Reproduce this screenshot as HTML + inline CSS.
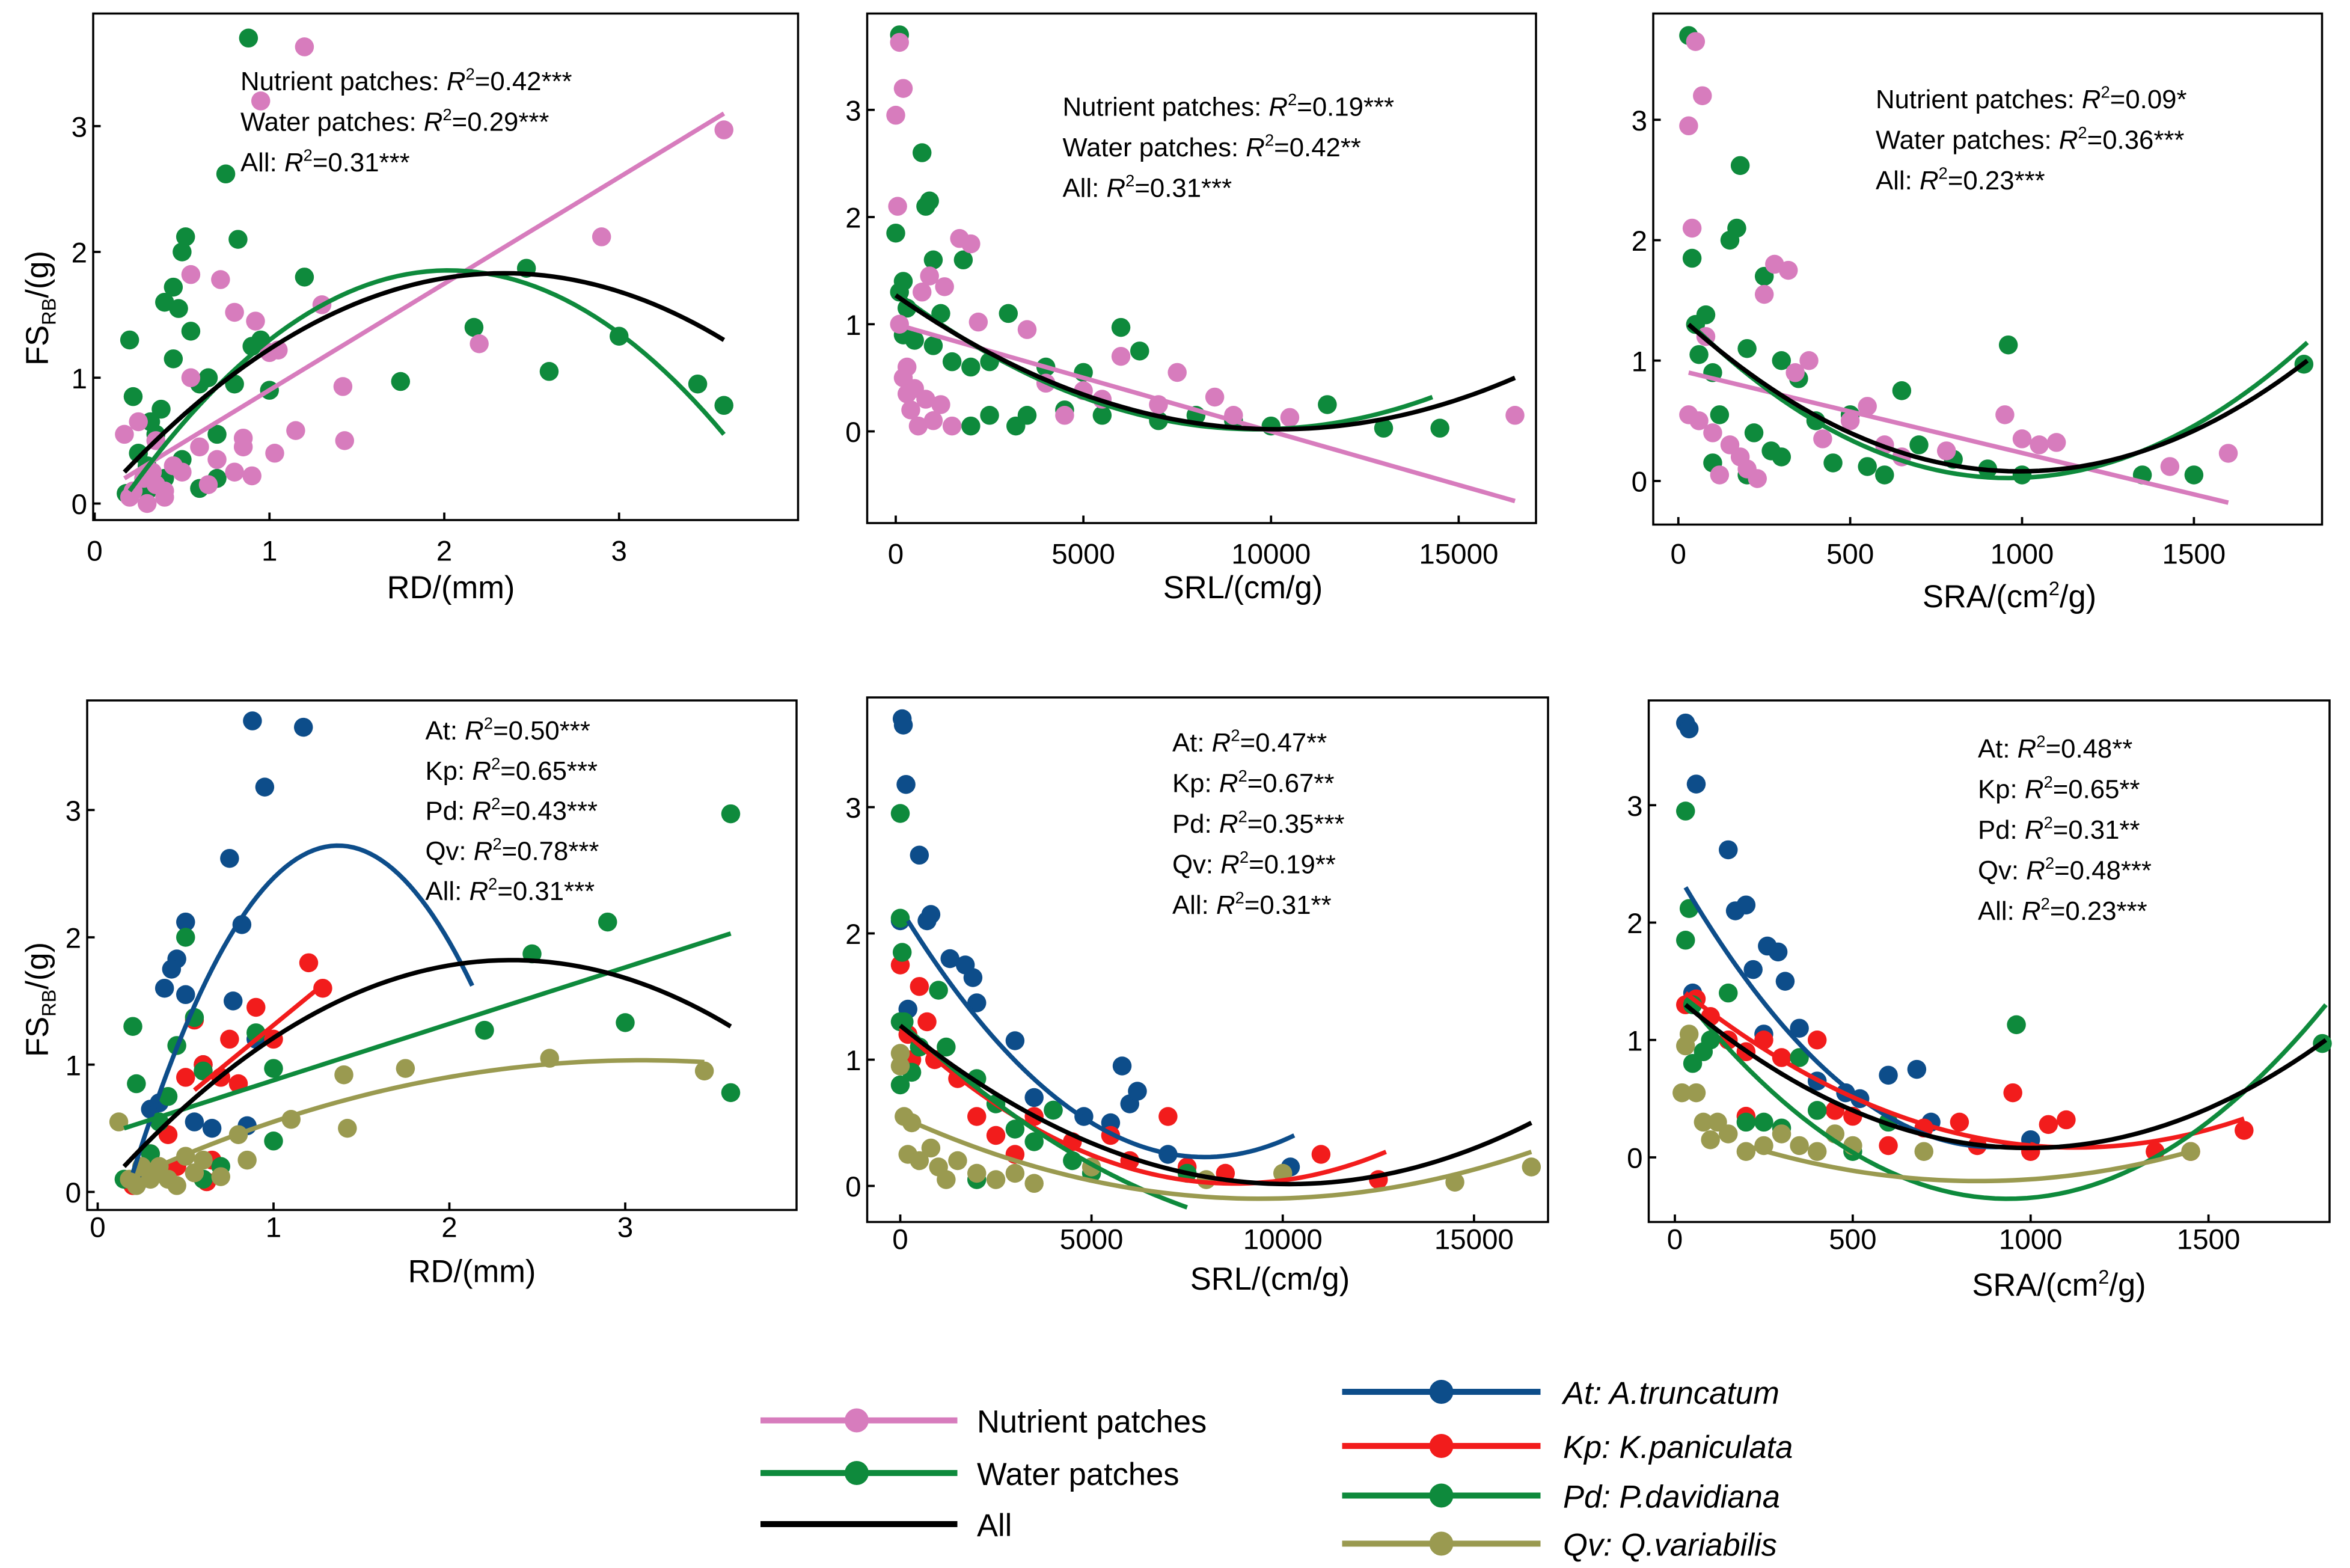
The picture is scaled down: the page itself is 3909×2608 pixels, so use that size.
<!DOCTYPE html>
<html><head><meta charset="utf-8"><style>
html,body{margin:0;padding:0;background:#fff}
svg{display:block}
text{font-family:"Liberation Sans",Arial,sans-serif;fill:#000}
</style></head><body>
<svg id="chart" width="3909" height="2608" viewBox="0 0 1563.6 1043.2" xmlns="http://www.w3.org/2000/svg"></svg>
<script>
const COL={pink:'#d77cbd',green:'#0e8a3c',black:'#000',blue:'#0d4d8a',red:'#f21c1c',olive:'#9a9a50'};
// ---- data arrays ----
const p1Water=[[0.18,0.08],[0.2,1.3],[0.22,0.85],[0.25,0.4],[0.3,0.3],[0.32,0.65],[0.35,0.55],[0.38,0.75],[0.4,1.6],[0.45,1.72],[0.45,1.15],[0.48,1.55],[0.5,2.0],[0.52,2.12],[0.55,1.37],[0.6,0.95],[0.6,0.12],[0.65,1.0],[0.7,0.2],[0.7,0.55],[0.75,2.62],[0.8,0.95],[0.82,2.1],[0.88,3.7],[0.9,1.25],[0.95,1.3],[1.0,0.9],[1.2,1.8],[1.75,0.97],[2.17,1.4],[2.47,1.87],[2.6,1.05],[3.0,1.33],[3.45,0.95],[3.6,0.78],[0.3,0.1],[0.4,0.2],[0.5,0.35]];
const p1Nutr=[[0.17,0.55],[0.2,0.05],[0.22,0.1],[0.25,0.65],[0.28,0.2],[0.3,0.0],[0.33,0.25],[0.35,0.5],[0.4,0.1],[0.45,0.3],[0.5,0.25],[0.55,1.0],[0.55,1.82],[0.6,0.45],[0.65,0.15],[0.7,0.35],[0.72,1.78],[0.8,1.52],[0.85,0.45],[0.85,0.52],[0.92,1.45],[0.95,3.2],[1.0,1.2],[1.05,1.22],[1.03,0.4],[1.15,0.58],[1.2,3.63],[1.3,1.58],[1.42,0.93],[1.43,0.5],[2.2,1.27],[2.9,2.12],[3.6,2.97],[0.8,0.25],[0.9,0.22],[0.4,0.05],[0.35,0.15]];
const p2Water=[[200,0.9],[0,1.85],[100,1.3],[200,1.4],[300,1.15],[500,0.85],[700,2.6],[800,2.1],[900,2.15],[1000,1.6],[1200,1.1],[1500,0.65],[1800,1.6],[2000,0.6],[2500,0.65],[3000,1.1],[3200,0.05],[3500,0.15],[4000,0.6],[4500,0.2],[5000,0.55],[5500,0.15],[6000,0.97],[6500,0.75],[7000,0.1],[8000,0.15],[9000,0.1],[10000,0.05],[11500,0.25],[13000,0.03],[14500,0.03],[100,3.7],[1000,0.8],[2000,0.05],[2500,0.15]];
const p2Nutr=[[0,2.95],[100,3.63],[200,3.2],[50,2.1],[100,1.0],[200,0.5],[300,0.6],[400,0.2],[500,0.4],[700,1.3],[800,0.3],[900,1.45],[1000,0.1],[1300,1.35],[1500,0.05],[1700,1.8],[2000,1.75],[2200,1.02],[3500,0.95],[4000,0.45],[4500,0.15],[5000,0.38],[5500,0.3],[6000,0.7],[7000,0.25],[7500,0.55],[8500,0.32],[9000,0.15],[10500,0.13],[16500,0.15],[1200,0.25],[600,0.05],[300,0.35]];
const p3Water=[[30,3.7],[40,1.85],[50,1.3],[60,1.05],[80,1.38],[100,0.9],[120,0.55],[150,2.0],[170,2.1],[180,2.62],[200,1.1],[220,0.4],[250,1.7],[270,0.25],[300,1.0],[350,0.85],[400,0.5],[450,0.15],[500,0.55],[550,0.12],[600,0.05],[650,0.75],[700,0.3],[800,0.18],[900,0.1],[960,1.13],[1000,0.05],[1350,0.05],[1500,0.05],[1820,0.97],[100,0.15],[200,0.05],[300,0.2]];
const p3Nutr=[[30,2.95],[50,3.65],[70,3.2],[40,2.1],[30,0.55],[60,0.5],[80,1.2],[100,0.4],[150,0.3],[200,0.1],[250,1.55],[280,1.8],[320,1.75],[340,0.9],[380,1.0],[420,0.35],[500,0.5],[550,0.62],[600,0.3],[650,0.2],[780,0.25],[950,0.55],[1000,0.35],[1050,0.3],[1100,0.32],[1430,0.12],[1600,0.23],[120,0.05],[180,0.2],[230,0.02]];
const p4At=[[0.25,0.1],[0.3,0.65],[0.35,0.7],[0.38,1.6],[0.45,1.83],[0.5,1.55],[0.5,2.12],[0.42,1.75],[0.6,1.0],[0.75,2.62],[0.77,1.5],[0.82,2.1],[0.88,3.7],[0.95,3.18],[1.17,3.65],[0.85,0.52],[0.9,1.2],[0.3,0.15],[0.55,0.55],[0.65,0.5]];
const p4Kp=[[0.2,0.05],[0.3,0.3],[0.4,0.45],[0.5,0.9],[0.55,1.35],[0.6,1.0],[0.62,0.08],[0.65,0.25],[0.7,0.9],[0.75,1.2],[0.8,0.85],[0.9,1.45],[1.0,1.2],[1.2,1.8],[1.28,1.6],[0.45,0.2]];
const p4Pd=[[0.15,0.1],[0.2,1.3],[0.22,0.85],[0.3,0.3],[0.35,0.55],[0.4,0.75],[0.5,2.0],[0.45,1.15],[0.55,1.37],[0.6,0.95],[0.7,0.2],[0.9,1.25],[1.0,0.97],[1.0,0.4],[2.2,1.27],[2.47,1.87],[2.9,2.12],[3.0,1.33],[3.6,2.97],[3.6,0.78],[0.6,0.1]];
const p4Qv=[[0.12,0.55],[0.18,0.1],[0.22,0.05],[0.3,0.1],[0.35,0.2],[0.4,0.1],[0.45,0.05],[0.5,0.28],[0.55,0.15],[0.6,0.25],[0.7,0.12],[0.8,0.45],[0.85,0.25],[1.1,0.57],[1.4,0.92],[1.42,0.5],[1.75,0.97],[2.57,1.05],[3.45,0.95],[0.25,0.2]];
const p5At=[[50,3.7],[80,3.65],[150,3.18],[0,2.1],[500,2.62],[700,2.1],[800,2.15],[200,1.4],[1300,1.8],[1700,1.75],[1900,1.65],[2000,1.45],[3000,1.15],[3500,0.7],[4000,0.6],[4800,0.55],[5500,0.5],[6000,0.65],[5800,0.95],[6200,0.75],[7000,0.25],[10200,0.15]];
const p5Kp=[[0,1.75],[200,1.2],[300,1.0],[500,1.58],[700,1.3],[900,1.0],[1500,0.85],[2000,0.55],[2500,0.4],[3000,0.25],[3500,0.55],[4500,0.35],[5500,0.4],[6000,0.2],[7000,0.55],[7500,0.15],[8500,0.1],[11000,0.25],[12500,0.05]];
const p5Pd=[[0,2.12],[50,1.85],[0,1.3],[0,0.8],[100,1.3],[300,0.9],[500,1.1],[1000,1.55],[1200,1.1],[2000,0.85],[2500,0.65],[3000,0.45],[3500,0.35],[4000,0.6],[4500,0.2],[5000,0.1],[7500,0.1],[2000,0.05],[0,2.95]];
const p5Qv=[[0,1.05],[0,0.95],[100,0.55],[300,0.5],[200,0.25],[500,0.2],[800,0.3],[1000,0.15],[1200,0.05],[1500,0.2],[2000,0.1],[2500,0.05],[3000,0.1],[3500,0.02],[5000,0.15],[10000,0.1],[14500,0.03],[16500,0.15],[8000,0.05]];
const p6At=[[30,3.7],[40,3.65],[60,3.18],[150,2.62],[170,2.1],[200,2.15],[220,1.6],[260,1.8],[290,1.75],[310,1.5],[250,1.05],[400,0.65],[480,0.55],[520,0.5],[600,0.7],[680,0.75],[720,0.3],[1000,0.15],[50,1.4],[350,1.1]];
const p6Kp=[[30,1.3],[60,1.35],[100,1.2],[150,1.0],[200,0.9],[250,1.0],[300,0.85],[400,1.0],[450,0.4],[500,0.35],[600,0.1],[700,0.25],[800,0.3],[850,0.1],[950,0.55],[1000,0.05],[1050,0.28],[1100,0.32],[1350,0.05],[1450,0.05],[1600,0.23],[200,0.35]];
const p6Pd=[[30,2.95],[40,2.12],[30,1.85],[50,1.3],[80,0.9],[100,1.0],[150,1.4],[200,0.3],[250,0.3],[300,0.25],[350,0.85],[400,0.4],[600,0.3],[960,1.13],[1820,0.97],[500,0.05],[50,0.8]];
const p6Qv=[[20,0.55],[40,1.05],[30,0.95],[60,0.55],[80,0.3],[100,0.15],[150,0.2],[200,0.05],[250,0.1],[300,0.2],[350,0.1],[400,0.05],[450,0.2],[500,0.1],[700,0.05],[1450,0.05],[120,0.3]];
// fitted curves (read control points: start, middle, end)
const p1Curves=[['pink',[[0.17,0.2],[3.6,3.1]]],['green',[[0.2,0.1],[1.95,1.85],[3.6,0.55]]],['black',[[0.17,0.25],[2.3,1.83],[3.6,1.3]]]];
const p2Curves=[['pink',[[0,1.0],[16500,-0.65]]],['green',[[0,1.3],[9500,0.02],[14300,0.32]]],['black',[[0,1.27],[10000,0.02],[16500,0.5]]]];
const p3Curves=[['pink',[[30,0.9],[1600,-0.18]]],['green',[[30,1.32],[900,0.03],[1830,1.15]]],['black',[[30,1.3],[1000,0.08],[1830,1.0]]]];
const p4Curves=[['blue',[[0.2,0.15],[1.38,2.72],[2.13,1.62]]],['red',[[0.55,0.8],[1.3,1.65]]],['green',[[0.15,0.5],[3.6,2.03]]],['black',[[0.15,0.2],[2.3,1.82],[3.6,1.3]]],['olive',[[0.15,0.08],[1.8,0.85],[3.45,1.02]]]];
const p5Curves=[['blue',[[200,2.1],[5000,0.5],[10300,0.4]]],['red',[[0,1.25],[6500,0.1],[12700,0.27]]],['green',[[0,1.3],[4000,0.35],[7500,-0.17]]],['olive',[[0,0.55],[9000,-0.1],[16500,0.27]]],['black',[[0,1.27],[9500,0.02],[16500,0.5]]]];
const p6Curves=[['blue',[[30,2.3],[500,0.55],[1000,0.12]]],['red',[[30,1.4],[800,0.2],[1600,0.33]]],['green',[[30,1.35],[900,-0.35],[1830,1.3]]],['olive',[[200,0.1],[800,-0.2],[1450,0.05]]],['black',[[30,1.3],[1000,0.08],[1830,1.0]]]];
const xTicksRD=[0,1,2,3], xTicksSRL=[0,5000,10000,15000], xTicksSRA=[0,500,1000,1500], yTicks=[0,1,2,3];
const NS='http://www.w3.org/2000/svg', svg=document.getElementById('chart');
function el(tag,attrs,parent,txt){const e=document.createElementNS(NS,tag);for(const k in attrs)e.setAttribute(k,attrs[k]);if(txt!==undefined)e.textContent=txt;(parent||svg).appendChild(e);return e;}
function panel(cfg){
  const g=el('g',{});
  
  
  const X=v=>cfg.x0+v*cfg.kx, Y=v=>cfg.y0-v*cfg.ky;
  const fr=el('rect',{x:cfg.box[0],y:cfg.box[1],width:cfg.box[2]-cfg.box[0],height:cfg.box[3]-cfg.box[1],fill:'none',stroke:'#000','stroke-width':1.4},g);
  
  
  cfg.xt.forEach(t=>{el('line',{x1:X(t),x2:X(t),y1:cfg.box[3],y2:cfg.box[3]-5,stroke:'#000','stroke-width':1.5},g);
    const tl=el('text',{x:X(t),y:cfg.box[3]+cfg.xo,'font-size':19,'text-anchor':'middle'},g,String(t));
    
    });
  yTicks.forEach(t=>{el('line',{x1:cfg.box[0],x2:cfg.box[0]+5,y1:Y(t),y2:Y(t),stroke:'#000','stroke-width':1.5},g);
    const tl=el('text',{x:cfg.box[0]-4,y:Y(t)+7,'font-size':19,'text-anchor':'end'},g,String(t));
    
    });
  cfg.pts.forEach(([arr,c])=>arr.forEach(p=>{const d=el('circle',{cx:X(p[0]),cy:Y(p[1]),r:6.3,fill:COL[c]},g);
    
    }));
  cfg.curves.forEach(([c,P])=>{let pts=[];const n=60,a=P[0][0],b=P[P.length-1][0];
    for(let i=0;i<=n;i++){const x=a+(b-a)*i/n;let y=0;
      for(let j=0;j<P.length;j++){let L=1;for(let k=0;k<P.length;k++)if(k!==j)L*=(x-P[k][0])/(P[j][0]-P[k][0]);y+=L*P[j][1];}
      pts.push(X(x).toFixed(2)+','+Y(y).toFixed(2));}
    const l=el('polyline',{points:pts.join(' '),fill:'none',stroke:COL[c],'stroke-width':3},g);
    
    });
  cfg.ann.forEach((a,i)=>{const t=el('text',{x:cfg.ax,y:cfg.ay+i*cfg.ad,'font-size':17.5},g);
    
    
    t.innerHTML=a[0]+' <tspan font-style="italic">R</tspan><tspan font-size="11" dy="-7">2</tspan><tspan dy="7">='+a[1]+'</tspan>';});
  const xl=el('text',{x:cfg.xl[0],y:cfg.xl[1],'font-size':21,'text-anchor':'middle'},g);
  
  
  xl.innerHTML=cfg.xlab;
  if(cfg.ylab){const yl=el('text',{transform:`translate(${cfg.ylab[0]},${cfg.ylab[1]}) rotate(-90)`,'font-size':21,'text-anchor':'middle'},g);
    
    
    yl.innerHTML='FS<tspan font-size="13" dy="5">RB</tspan><tspan dy="-5">/(g)</tspan>';}
}
const annTop1=[['Nutrient patches:','0.42***'],['Water patches:','0.29***'],['All:','0.31***']];
panel({name:'panel-rd-patches',box:[62,9,531,346],x0:63,kx:116.3,y0:335,ky:83.7,xo:27,xt:xTicksRD,pts:[[p1Water,'green'],[p1Nutr,'pink']],curves:p1Curves,ann:annTop1,ax:160,ay:60,ad:27,xl:[300,398],xlab:'RD/(mm)',ylab:[32,205]});
panel({name:'panel-srl-patches',box:[577,9,1022,348],x0:596,kx:0.02497,y0:287,ky:71.3,xo:27,xt:xTicksSRL,pts:[[p2Water,'green'],[p2Nutr,'pink']],curves:p2Curves,ann:[['Nutrient patches:','0.19***'],['Water patches:','0.42**'],['All:','0.31***']],ax:707,ay:77,ad:27,xl:[827,398],xlab:'SRL/(cm/g)'});
panel({name:'panel-sra-patches',box:[1100,9,1545,349],x0:1116.7,kx:0.2287,y0:320,ky:80.1,xo:26,xt:xTicksSRA,pts:[[p3Water,'green'],[p3Nutr,'pink']],curves:p3Curves,ann:[['Nutrient patches:','0.09*'],['Water patches:','0.36***'],['All:','0.23***']],ax:1248,ay:72,ad:27,xl:[1337,404],xlab:'SRA/(cm<tspan font-size="13" dy="-8">2</tspan><tspan dy="8">/g)</tspan>'});
panel({name:'panel-rd-species',box:[58,466,530,805],x0:65,kx:117,y0:793,ky:84.7,xo:18,xt:xTicksRD,pts:[[p4At,'blue'],[p4Kp,'red'],[p4Pd,'green'],[p4Qv,'olive']],curves:p4Curves,ann:[['At:','0.50***'],['Kp:','0.65***'],['Pd:','0.43***'],['Qv:','0.78***'],['All:','0.31***']],ax:283,ay:492,ad:26.7,xl:[314,853],xlab:'RD/(mm)',ylab:[32,665]});
panel({name:'panel-srl-species',box:[577,464,1030,813],x0:599,kx:0.02545,y0:789,ky:84,xo:18,xt:xTicksSRL,pts:[[p5At,'blue'],[p5Kp,'red'],[p5Pd,'green'],[p5Qv,'olive']],curves:p5Curves,ann:[['At:','0.47**'],['Kp:','0.67**'],['Pd:','0.35***'],['Qv:','0.19**'],['All:','0.31**']],ax:780,ay:500,ad:27,xl:[845,858],xlab:'SRL/(cm/g)'});
panel({name:'panel-sra-species',box:[1097,466,1550,813],x0:1114.4,kx:0.2367,y0:770,ky:78.1,xo:18,xt:xTicksSRA,pts:[[p6At,'blue'],[p6Kp,'red'],[p6Pd,'green'],[p6Qv,'olive']],curves:p6Curves,ann:[['At:','0.48**'],['Kp:','0.65**'],['Pd:','0.31**'],['Qv:','0.48***'],['All:','0.23***']],ax:1316,ay:504,ad:27,xl:[1370,862],xlab:'SRA/(cm<tspan font-size="13" dy="-8">2</tspan><tspan dy="8">/g)</tspan>'});
// legends
const legL=[['pink','Nutrient patches',945,true],['green','Water patches',980,true],['black','All',1014,false]];
legL.forEach(([c,t,y,dot])=>{const g=el('g',{});
  
  
  el('line',{x1:506,x2:637,y1:y,y2:y,stroke:COL[c],'stroke-width':4},g);
  if(dot)el('circle',{cx:570,cy:y,r:8,fill:COL[c]},g);
  el('text',{x:650,y:y+8,'font-size':21},g,t);});
const legR=[['blue','At: A.truncatum',926],['red','Kp: K.paniculata',962],['green','Pd: P.davidiana',995],['olive','Qv: Q.variabilis',1027]];
legR.forEach(([c,t,y])=>{const g=el('g',{});
  
  
  el('line',{x1:893,x2:1025,y1:y,y2:y,stroke:COL[c],'stroke-width':4},g);
  el('circle',{cx:959,cy:y,r:8,fill:COL[c]},g);
  el('text',{x:1040,y:y+8,'font-size':21,'font-style':'italic'},g,t);});
</script>
</body></html>
